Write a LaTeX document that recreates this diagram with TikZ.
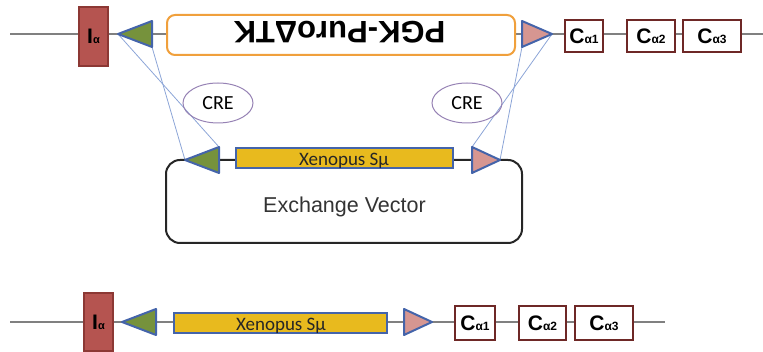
\documentclass[tikz,border=0pt]{standalone}
\usepackage{fontspec}
\setmainfont{Liberation Sans}
\newfontfamily\calib{Carlito}
\usetikzlibrary{shapes.geometric}

\definecolor{exonred}{RGB}{181,84,80}
\definecolor{exonredline}{RGB}{140,56,52}
\definecolor{constline}{RGB}{110,40,38}
\definecolor{loxgreen}{RGB}{118,146,60}
\definecolor{loxpink}{RGB}{214,150,145}
\definecolor{loxblue}{RGB}{68,100,170}
\definecolor{switchyellow}{RGB}{232,186,30}
\definecolor{cassorange}{RGB}{240,160,60}
\definecolor{recombline}{RGB}{140,165,215}
\definecolor{crering}{RGB}{150,130,180}
\definecolor{locusgray}{RGB}{128,128,128}

\tikzset{
  locus/.style={draw=locusgray, line width=1.2pt},
  iexon/.style={draw=exonredline, fill=exonred, line width=1.2pt, inner sep=0pt,
                font=\bfseries\fontsize{21}{21}\selectfont},
  cexon/.style={draw=constline, fill=white, line width=2pt, inner sep=0pt,
                font=\bfseries\fontsize{21}{21}\selectfont},
  loxleft/.style={draw=loxblue, fill=loxgreen, line width=2pt, line join=round},
  loxright/.style={draw=loxblue, fill=loxpink, line width=2pt, line join=round},
  switchbox/.style={draw=loxblue, fill=switchyellow, line width=1.5pt},
  switchlabel/.style={font=\calib\fontsize{19}{19}\selectfont, text=black!85, inner sep=0pt},
  recomb/.style={draw=recombline, line width=0.8pt},
  crebubble/.style={ellipse, draw=crering, line width=1pt, inner sep=0pt,
                    minimum width=70pt, minimum height=40pt,
                    font=\calib\fontsize{20}{20}\selectfont},
  cassette/.style={draw=cassorange, fill=white, line width=2pt, rounded corners=8pt,
                   inner sep=0pt},
  vector/.style={draw=black!85, line width=2pt, rounded corners=14pt},
}
\newcommand{\Ialpha}{I{\fontsize{11}{11}\selectfont α}}
\newcommand{\Calpha}[1]{C{\fontsize{12}{12}\selectfont α#1}}

\begin{document}
\begin{tikzpicture}[x=1pt, y=-1pt]
\useasboundingbox (0,0) rectangle (763,352);

% ---------- germline locus ----------
\coordinate (topL) at (10,34);
\coordinate (topR) at (763,34);
\draw[locus] (topL) -- (topR);

% lox sites flanking the cassette
\coordinate (g1t) at (118,34);
\coordinate (g1a) at (152,21);
\coordinate (g1b) at (152,47);
\coordinate (p1a) at (522,21);
\coordinate (p1b) at (522,47);
\coordinate (p1t) at (552,34);

% ---------- exchange vector ----------
\coordinate (g2t) at (185,160);
\coordinate (g2a) at (219,147);
\coordinate (g2b) at (219,173);
\coordinate (p2a) at (472,147);
\coordinate (p2b) at (472,173);
\coordinate (p2t) at (500,160);

% recombination lines
\draw[recomb] (g1t) -- (g2a);
\draw[recomb] (g1b) -- (g2t);
\draw[recomb] (p1t) -- (p2a);
\draw[recomb] (p1b) -- (p2t);

\node[iexon, minimum width=29pt, minimum height=59pt] (ia1) at (93.5,36.5) {\Ialpha};
\draw[loxleft] (g1t) -- (g1a) -- (g1b) -- cycle;
\node[cassette, minimum width=348pt, minimum height=40pt] (puro) at (341,35) {};
\node[rotate=180, inner sep=0pt, font=\bfseries\fontsize{31}{31}\selectfont] (purolabel) at (339.5,32) {PGK-PuroΔTK};
\draw[loxright] (p1a) -- (p1t) -- (p1b) -- cycle;
\node[cexon, minimum width=38pt, minimum height=32pt] (ca1) at (584,36) {\Calpha{1}};
\node[cexon, minimum width=48pt, minimum height=32pt] (ca2) at (651,36) {\Calpha{2}};
\node[cexon, minimum width=58pt, minimum height=32pt] (ca3) at (712,36) {\Calpha{3}};

% Cre recombinase
\node[crebubble] (creL) at (218,103) {CRE};
\node[crebubble] (creR) at (467,103) {CRE};

% plasmid
\draw[vector] (166,160) rectangle (522,243);
\node[anchor=base, inner sep=0pt, font=\fontsize{21.5}{21.5}\selectfont, text=black!80] (exlabel) at (344.5,213) {Exchange Vector};
\draw[loxleft] (g2t) -- (g2a) -- (g2b) -- cycle;
\node[switchbox, minimum width=217pt, minimum height=20pt, inner sep=0pt] (smu1) at (344.5,158) {};
\node[switchlabel, anchor=base] (smu1label) at (344,165.5) {Xenopus Sμ};
\draw[loxright] (p2a) -- (p2t) -- (p2b) -- cycle;

% ---------- recombined locus ----------
\coordinate (botL) at (10,322);
\coordinate (botR) at (665,322);
\draw[locus] (botL) -- (botR);
\coordinate (g3t) at (122,322);
\coordinate (g3a) at (156,309);
\coordinate (g3b) at (156,335);
\coordinate (p3a) at (404,309);
\coordinate (p3b) at (404,335);
\coordinate (p3t) at (432,322);

\node[iexon, minimum width=29pt, minimum height=58pt] (ia2) at (98.5,322) {\Ialpha};
\draw[loxleft] (g3t) -- (g3a) -- (g3b) -- cycle;
\node[switchbox, minimum width=213pt, minimum height=20pt, inner sep=0pt] (smu2) at (280.5,323) {};
\node[switchlabel, anchor=base] (smu2label) at (281,330.5) {Xenopus Sμ};
\draw[loxright] (p3a) -- (p3t) -- (p3b) -- cycle;
\node[cexon, minimum width=40pt, minimum height=34pt] (cb1) at (475,323) {\Calpha{1}};
\node[cexon, minimum width=47pt, minimum height=34pt] (cb2) at (542.5,323) {\Calpha{2}};
\node[cexon, minimum width=58pt, minimum height=34pt] (cb3) at (604,323) {\Calpha{3}};
\end{tikzpicture}
\end{document}
